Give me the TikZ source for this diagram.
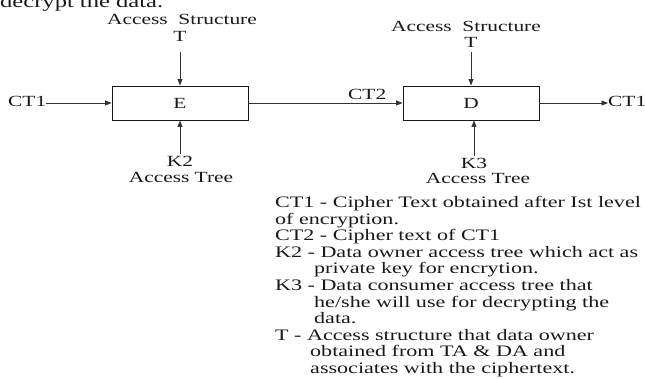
\documentclass[tikz,border=0pt]{standalone}
\usepackage{fontspec}
\setmainfont{Liberation Serif}[FakeStretch=1.38]
\usetikzlibrary{arrows.meta}

\begin{document}
\begin{tikzpicture}[x=1pt,y=-1pt,
  lbl/.style={inner sep=0pt, font=\fontsize{15.5}{17}\selectfont, text=black!90},
  legend/.style={inner sep=0pt, anchor=base west, font=\fontsize{16}{17}\selectfont, text=black!90},
  blk/.style={draw=black!90, line width=0.9pt, minimum width=136pt, minimum height=34pt,
              inner sep=0pt, font=\fontsize{15.5}{17}\selectfont, text=black!90},
  arr/.style={draw=black!80, line width=0.8pt, -{Triangle[length=6.5pt,width=5pt]}}]

\useasboundingbox (0,0) rectangle (645,379);
\clip (0,0) rectangle (645,379);

% running text above the figure
\node[inner sep=0pt, anchor=base west, font=\fontsize{17.8}{20}\selectfont, text=black!90]
  (prev) at (0,7.5) {decrypt the data.};

% encryption and decryption blocks
\node[blk] (E) at (180,103) {E};
\node[blk] (D) at (471,103) {D};

% inputs from above
\node[lbl, anchor=base] (asE) at (182,25) {Access\ \ Structure};
\node[lbl, anchor=base] (tE)  at (180,42) {T};
\node[lbl, anchor=base] (asD) at (466,32) {Access\ \ Structure};
\node[lbl, anchor=base] (tD)  at (471,48) {T};

% inputs from below
\node[lbl, anchor=base] (k2)  at (180,167) {K2};
\node[lbl, anchor=base] (atE) at (181,183) {Access Tree};
\node[lbl, anchor=base] (k3)  at (474,169) {K3};
\node[lbl, anchor=base] (atD) at (478,184) {Access Tree};

% data flow labels
\node[lbl, anchor=base west] (inCT)  at (8,107)   {CT1};
\node[lbl, anchor=base west] (ct2)   at (348,100) {CT2};
\node[lbl, anchor=base west] (outCT) at (608,107) {CT1};

% connectors
\draw[arr] ([yshift=-10pt]tE.south) -- (E.north);
\draw[arr] ([yshift=-4pt]tD.south) -- (D.north);
\draw[arr] ([yshift=3pt]k2.north) -- (E.south);
\draw[arr] ([yshift=3pt]k3.north) -- (k3.north |- D.south);
\draw[arr] (E.west -| inCT.east) -- (E.west);
\draw[arr] (E.east) -- (D.west);
\draw[arr] (D.east) -- (D.east -| outCT.west);

% legend
\node[legend] (l1)  at (275,208)   {CT1 - Cipher Text obtained after Ist level};
\node[legend] (l2)  at (275,224.5) {of encryption.};
\node[legend] (l3)  at (275,241)   {CT2 - Cipher text of CT1};
\node[legend] (l4)  at (275,257.5) {K2 - Data owner access tree which act as};
\node[legend] (l5)  at (314,274)   {private key for encrytion.};
\node[legend] (l6)  at (275,290.5) {K3 - Data consumer access tree that};
\node[legend] (l7)  at (314,307)   {he/she will use for decrypting the};
\node[legend] (l8)  at (314,323.5) {data.};
\node[legend] (l9)  at (275,340)   {T - Access structure that data owner};
\node[legend] (l10) at (310,356.5) {obtained from TA \& DA and};
\node[legend] (l11) at (310,373)   {associates with the ciphertext.};
\end{tikzpicture}
\end{document}
